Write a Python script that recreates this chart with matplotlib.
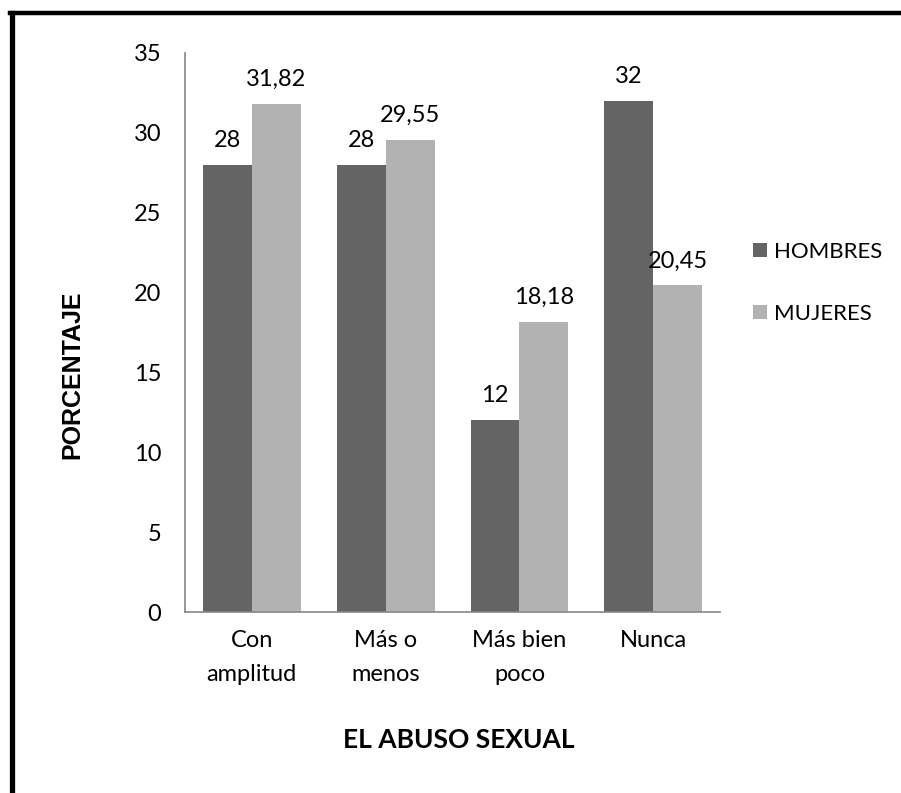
import matplotlib.pyplot as plt
import numpy as np
from matplotlib.lines import Line2D

categories = ['Con\namplitud', 'Más o\nmenos', 'Más bien\npoco', 'Nunca']
hombres = [28, 28, 12, 32]
mujeres = [31.82, 29.55, 18.18, 20.45]
hombres_lbl = ['28', '28', '12', '32']
mujeres_lbl = ['31,82', '29,55', '18,18', '20,45']
yticks = [0, 5, 10, 15, 20, 25, 30, 35]

plt.rcParams['font.family'] = ['Lato', 'DejaVu Sans']

fig = plt.figure(figsize=(9.01, 7.93), dpi=100)
ax = fig.add_axes([0.2053, 0.2282, 0.594, 0.705])

x = np.arange(len(categories))
w = 0.366
b1 = ax.bar(x - w/2, hombres, w, color='#646464', label='HOMBRES')
b2 = ax.bar(x + w/2, mujeres, w, color='#b2b2b2', label='MUJERES')

for rect, t in zip(b1, hombres_lbl):
    ax.annotate(t, (rect.get_x() + rect.get_width()/2, rect.get_height()),
                xytext=(0, 10), textcoords='offset points', ha='center', va='bottom', fontsize=17)
for rect, t in zip(b2, mujeres_lbl):
    ax.annotate(t, (rect.get_x() + rect.get_width()/2, rect.get_height()),
                xytext=(0, 10), textcoords='offset points', ha='center', va='bottom', fontsize=17)

ax.set_xlim(-0.5, 3.5)
ax.set_ylim(0, 35)
ax.set_yticks(yticks)
ax.set_xticks(x)
ax.set_xticklabels(categories, fontsize=17, linespacing=1.75)
ax.tick_params(axis='y', length=0, labelsize=17, pad=17)
ax.tick_params(axis='x', length=0, pad=13)
for s in ['top', 'right']:
    ax.spines[s].set_visible(False)
ax.spines['left'].set_color('#868686')
ax.spines['bottom'].set_color('#868686')
ax.spines['left'].set_linewidth(1.2)
ax.spines['bottom'].set_linewidth(1.2)

fig.text(0.08, 0.527, 'PORCENTAJE', rotation=90, ha='center', va='center',
         fontsize=18, fontweight='bold', family=['Liberation Sans', 'DejaVu Sans'])
fig.text(0.509, 0.067, 'EL ABUSO SEXUAL', ha='center', va='center',
         fontsize=19, fontweight='bold')

fig.legend(handles=[b1, b2], loc='center left', bbox_to_anchor=(0.836, 0.643),
           frameon=False, fontsize=16, handlelength=0.6, handleheight=0.6,
           handletextpad=0.35, labelspacing=1.9, borderpad=0, borderaxespad=0)

# marco
fig.add_artist(Line2D([0.013, 0.013], [0.0, 0.984], color='black', linewidth=3.8))
fig.add_artist(Line2D([0.011, 1.0], [0.984, 0.984], color='black', linewidth=3.2))

fig.savefig('out.png', dpi=100)
